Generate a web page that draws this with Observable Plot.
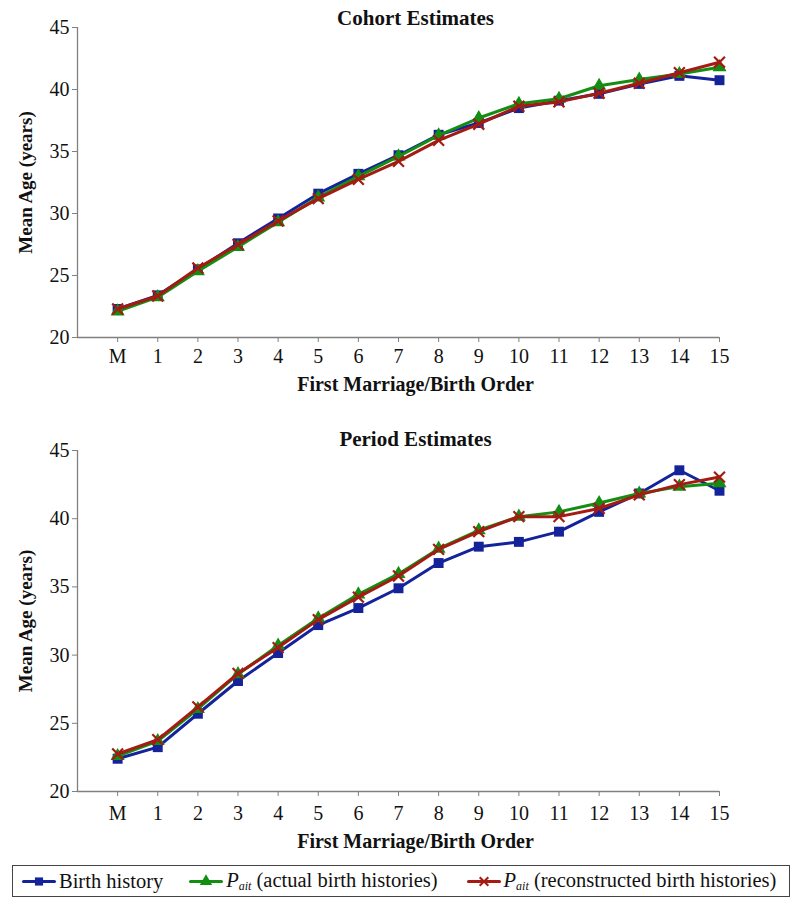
<!DOCTYPE html>
<html><head><meta charset="utf-8">
<script src="https://cdn.jsdelivr.net/npm/d3@7"></script>
<script src="https://cdn.jsdelivr.net/npm/@observablehq/plot@0.6"></script>
<style>
body{margin:0;background:#fff;font-family:"Liberation Serif","Times New Roman","DejaVu Serif",serif;}
#wrap{position:relative;width:800px;height:908px;}
svg{display:block}
svg, svg text{font-family:"Liberation Serif","Times New Roman","DejaVu Serif",serif !important;}
#legend{position:absolute;left:12px;top:865px;width:776px;height:30px;border:1px solid #444;display:flex;align-items:center;font-size:20.5px;color:#111;box-sizing:content-box;}
.item{display:flex;align-items:center;}
.item svg{margin-right:5px}
sub{font-size:12px;font-style:italic;vertical-align:-3px;}
</style>
</head><body>
<div id="wrap"></div>
<script>
const orderLabels = ["M","1","2","3","4","5","6","7","8","9","10","11","12","13","14","15"];
const yTicks = [20, 25, 30, 35, 40, 45];
const seriesNames = ["Birth history", "Pait (actual birth histories)", "Pait (reconstructed birth histories)"];
const seriesColors = ["#15239b", "#138e12", "#a31b12"];
const seriesSymbols = ["square", "triangle", "times"];

const cohortBirth  = [22.3, 23.4, 25.5, 27.6, 29.6, 31.6, 33.2, 34.7, 36.35, 37.3, 38.5, 39.1, 39.65, 40.45, 41.1, 40.75];
const cohortActual = [22.1, 23.25, 25.35, 27.3, 29.3, 31.3, 33.0, 34.6, 36.3, 37.7, 38.85, 39.25, 40.3, 40.8, 41.25, 41.8];
const cohortRecon  = [22.3, 23.35, 25.6, 27.5, 29.4, 31.2, 32.75, 34.2, 35.9, 37.2, 38.65, 39.0, 39.7, 40.5, 41.35, 42.2];

const periodBirth  = [22.4, 23.25, 25.7, 28.1, 30.15, 32.2, 33.45, 34.9, 36.75, 37.95, 38.3, 39.05, 40.5, 41.85, 43.55, 42.05];
const periodActual = [22.6, 23.7, 26.05, 28.6, 30.7, 32.7, 34.45, 35.95, 37.8, 39.15, 40.15, 40.5, 41.15, 41.85, 42.35, 42.6];
const periodRecon  = [22.75, 23.8, 26.2, 28.65, 30.55, 32.6, 34.25, 35.8, 37.75, 39.05, 40.15, 40.15, 40.75, 41.75, 42.5, 43.05];

const FONT = '"Liberation Serif", "Times New Roman", "DejaVu Serif", serif';
const GRAY = "#808080";

function chart(cfg) {
  const groups = cfg.values.map((vals, k) => vals.map((v, i) => ({x: i, y: v, k})));
  const marks = [
    Plot.ruleY([20], {stroke: GRAY, strokeWidth: 1.3}),
    Plot.ruleX([-1], {stroke: GRAY, strokeWidth: 1.3}),
    Plot.axisX(d3.range(orderLabels.length), {tickFormat: i => orderLabels[i], tickSize: 5, tickPadding: cfg.xPad, fontSize: 20, stroke: GRAY, fill: "#111", label: null}),
    Plot.axisY(yTicks, {tickSize: 5, tickPadding: 3, fontSize: 20, stroke: GRAY, fill: "#111", label: null}),
  ];
  groups.forEach((g, k) => {
    marks.push(Plot.line(g, {x: "x", y: "y", stroke: seriesColors[k], strokeWidth: 3}));
    const sym = seriesSymbols[k];
    if (sym === "times") {
      marks.push(Plot.dot(g, {x: "x", y: "y", symbol: "times", r: 5, stroke: seriesColors[k], strokeWidth: 2.2}));
    } else {
      marks.push(Plot.dot(g, {x: "x", y: "y", symbol: sym, r: sym === "square" ? 5.6 : 5.2, fill: seriesColors[k], stroke: "none"}));
    }
  });
  marks.push(Plot.text([cfg.title], {frameAnchor: "top", dx: 17, dy: cfg.titleDy, lineAnchor: "middle", fontWeight: "bold", fontSize: 21, fill: "#111"}));
  marks.push(Plot.text(["First Marriage/Birth Order"], {frameAnchor: "bottom", dx: 17, dy: cfg.labelDy, lineAnchor: "middle", fontWeight: "bold", fontSize: 20, fill: "#111"}));
  marks.push(Plot.text(["Mean Age (years)"], {frameAnchor: "left", dx: -52, rotate: -90, textAnchor: "middle", lineAnchor: "middle", fontWeight: "bold", fontSize: 19, fill: "#111"}));
  return Plot.plot({
    width: 800, height: cfg.height,
    marginLeft: 77, marginRight: 81, marginTop: cfg.marginTop, marginBottom: cfg.marginBottom,
    style: {fontFamily: FONT, background: "#fff", overflow: "visible"},
    x: {type: "linear", domain: [-1, 15], axis: null},
    y: {domain: [20, 45], axis: null},
    marks
  });
}

const wrap = document.getElementById("wrap");
wrap.appendChild(chart({title: "Cohort Estimates", values: [cohortBirth, cohortActual, cohortRecon], height: 400, marginTop: 27, marginBottom: 63, xPad: 6, titleDy: -9, labelDy: 47.5}));
wrap.appendChild(chart({title: "Period Estimates", values: [periodBirth, periodActual, periodRecon], height: 458, marginTop: 50, marginBottom: 67, xPad: 9, titleDy: -11.5, labelDy: 50.5}));

// Legend
const legend = document.createElement("div");
legend.id = "legend";
const gaps = [10, 27, 30];
seriesNames.forEach((name, k) => {
  const item = document.createElement("div");
  item.className = "item";
  item.style.marginLeft = gaps[k] + "px";
  const sw = Plot.plot({
    width: 31, height: 20, margin: 0,
    x: {domain: [0, 2], axis: null}, y: {domain: [0, 1], axis: null},
    style: {overflow: "visible", background: "transparent"},
    marks: [
      Plot.line([{x: 0, y: 0.5}, {x: 2, y: 0.5}], {x: "x", y: "y", stroke: seriesColors[k], strokeWidth: 3}),
      seriesSymbols[k] === "times"
        ? Plot.dot([{x: 1, y: 0.5}], {x: "x", y: "y", symbol: "times", r: 4, stroke: seriesColors[k], strokeWidth: 2})
        : Plot.dot([{x: 1, y: 0.5}], {x: "x", y: "y", symbol: seriesSymbols[k], r: 4.6, fill: seriesColors[k]})
    ]
  });
  item.appendChild(sw);
  const label = document.createElement("span");
  if (name.startsWith("Pait")) {
    label.innerHTML = "<i>P</i><sub>ait</sub>" + name.slice(4);
  } else {
    label.textContent = name;
  }
  item.appendChild(label);
  legend.appendChild(item);
});
wrap.appendChild(legend);
</script>
</body></html>
